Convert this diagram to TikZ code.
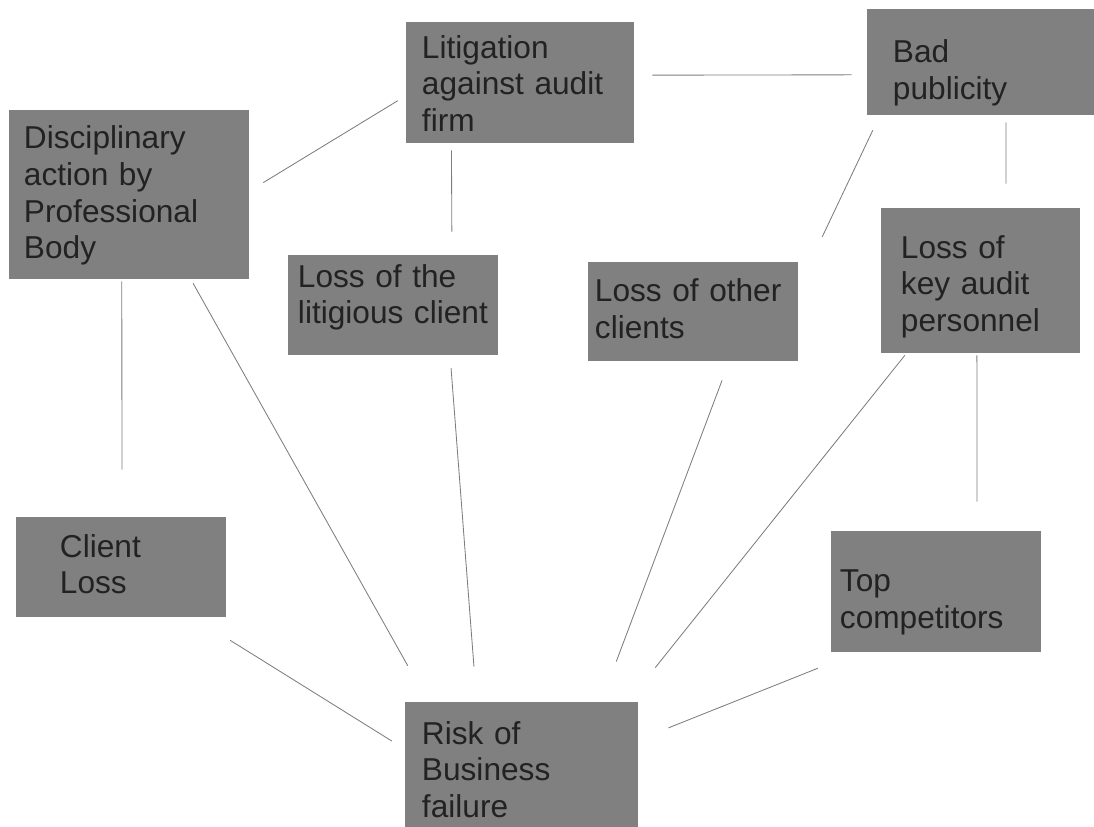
\documentclass[tikz,border=0pt]{standalone}
\usepackage{fontspec}
\setmainfont{Liberation Sans}
\usepackage{tikz}
\usetikzlibrary{calc}
\usepackage{xcolor}
\definecolor{boxgray}{RGB}{128,128,128}
\definecolor{ink}{RGB}{34,34,34}
\definecolor{linkgray}{RGB}{125,125,125}

\begin{document}
\begin{tikzpicture}[
  x=0.025cm, y=-0.025cm,
  box/.style={fill=boxgray,text=ink,align=left,inner ysep=0pt,
    font=\fontsize{22.5pt}{26pt}\selectfont},
  link/.style={draw=linkgray,line width=0.6pt}
]
  \useasboundingbox (0,0) rectangle (1094,827);

  % boxes (text height = first baseline below the top edge)
  \node[box,text width=4.9cm,inner xsep=0.4cm,text height=0.9075cm,text depth=2.1175cm] (lit) at (520,82.5)
    {Litigation\\against audit\\firm};
  \node[box,text width=4.375cm,inner xsep=0.65cm,text height=1.3425cm,text depth=1.3075cm] (bad) at (980.5,62)
    {Bad\\publicity};
  \node[box,text width=5.25cm,inner xsep=0.375cm,text height=0.975cm,text depth=3.25cm] (disc) at (129,194.5)
    {Disciplinary\\action by\\Professional\\Body};
  \node[box,text width=4.75cm,inner xsep=0.25cm,text height=0.8075cm,text depth=1.6925cm] (litig) at (393,305)
    {Loss of the\\litigious client};
  \node[box,text width=4.9cm,inner xsep=0.175cm,text height=0.9925cm,text depth=1.4825cm] (other) at (693,311.5)
    {Loss of other\\clients};
  \node[box,text width=3.975cm,inner xsep=0.5cm,text height=1.2575cm,text depth=2.3675cm] (key) at (980.5,280.5)
    {Loss of\\key audit\\personnel};
  \node[box,text width=3.05cm,inner xsep=1.1cm,text height=1.0075cm,text depth=1.4925cm] (client) at (121,567)
    {Client\\Loss};
  \node[box,text width=4.8cm,inner xsep=0.225cm,text height=1.5175cm,text depth=1.5075cm] (top) at (936,591.5)
    {Top\\competitors};
  \node[box,text width=4.975cm,inner xsep=0.425cm,text height=1.0575cm,text depth=2.0675cm] (risk) at (521.5,764.5)
    {Risk of\\Business\\failure};

  % links between boxes
  \draw[link,shorten <=0.45cm,shorten >=0.375cm]
    ($(lit.north east)!0.44!(lit.south east)$) -- ($(bad.north west)!0.62!(bad.south west)$);
  \draw[link,shorten <=0.41cm,shorten >=0.23cm]
    ($(disc.north east)!0.48!(disc.south east)$) -- ($(lit.north west)!0.61!(lit.south west)$);
  \draw[link,shorten <=0.175cm,shorten >=0.575cm]
    ($(lit.south west)!0.2!(lit.south east)$) -- ($(litig.north west)!0.78!(litig.north east)$);
  \draw[link,shorten <=0.415cm,shorten >=1.395cm]
    ($(bad.south west)!0.058!(bad.south east)$) -- ($(other.north east)!0.257!(other.south east)$);
  \draw[link,shorten <=0.175cm,shorten >=0.6cm]
    ($(bad.south west)!0.612!(bad.south east)$) -- ($(key.north west)!0.628!(key.north east)$);
  \draw[link,shorten <=0.05cm,shorten >=1.175cm]
    ($(disc.south west)!0.47!(disc.south east)$) -- ($(client.north west)!0.505!(client.north east)$);
  \draw[link,shorten <=0.115cm,shorten >=1.03cm]
    ($(disc.south west)!0.757!(disc.south east)$) -- ($(risk.north west)!0.0996!(risk.north east)$);
  \draw[link,shorten <=0.325cm,shorten >=0.88cm]
    ($(litig.south west)!0.771!(litig.south east)$) -- ($(risk.north west)!0.308!(risk.north east)$);
  \draw[link,shorten <=0.51cm,shorten >=1.07cm]
    ($(other.south west)!0.672!(other.south east)$) -- ($(risk.north west)!0.841!(risk.north east)$);
  \draw[link,shorten <=0.064cm,shorten >=1.09cm]
    ($(key.south west)!0.129!(key.south east)$) -- ($(risk.north west)!0.956!(risk.north east)$);
  \draw[link,shorten <=0.05cm,shorten >=0.725cm]
    ($(key.south west)!0.482!(key.south east)$) -- ($(top.north west)!0.695!(top.north east)$);
  \draw[link,shorten <=1.09cm,shorten >=0.38cm]
    ($(client.south west)!0.843!(client.south east)$) -- ($(risk.north west)!0.377!(risk.south west)$);
  \draw[link,shorten <=1.08cm,shorten >=0.81cm]
    ($(top.south west)!0.129!(top.south east)$) -- ($(risk.north east)!0.304!(risk.south east)$);
\end{tikzpicture}
\end{document}
